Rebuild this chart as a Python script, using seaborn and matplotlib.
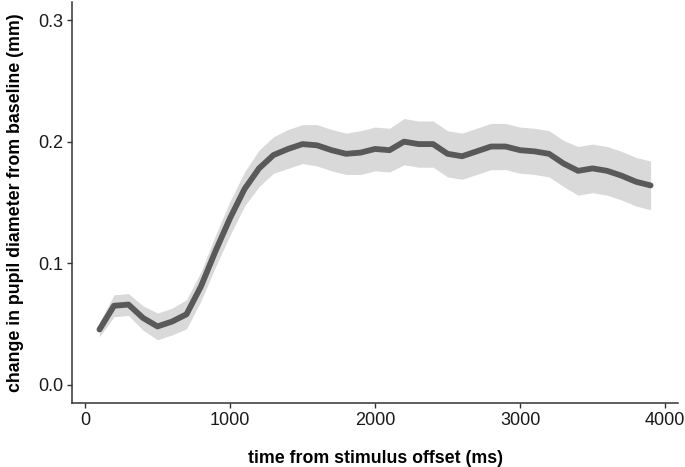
import matplotlib
matplotlib.use("Agg")
import matplotlib.pyplot as plt
import seaborn as sns
import pandas as pd

# time bins (ms) and mean change in pupil diameter (mm), with ribbon half-width
time_ms = [100, 200, 300, 400, 500, 600, 700, 800, 900, 1000,
           1100, 1200, 1300, 1400, 1500, 1600, 1700, 1800, 1900, 2000,
           2100, 2200, 2300, 2400, 2500, 2600, 2700, 2800, 2900, 3000,
           3100, 3200, 3300, 3400, 3500, 3600, 3700, 3800, 3900]
pupil_change = [0.0455, 0.065, 0.066, 0.055, 0.048, 0.052, 0.058, 0.081, 0.110, 0.137,
                0.161, 0.178, 0.189, 0.194, 0.198, 0.197, 0.193, 0.190, 0.191, 0.194,
                0.193, 0.200, 0.198, 0.198, 0.190, 0.188, 0.192, 0.196, 0.196, 0.193,
                0.192, 0.190, 0.182, 0.176, 0.178, 0.176, 0.172, 0.167, 0.164]
ribbon_hw = [0.006, 0.009, 0.009, 0.010, 0.011, 0.011, 0.012, 0.012, 0.013, 0.014,
             0.014, 0.015, 0.015, 0.016, 0.016, 0.017, 0.017, 0.017, 0.018, 0.018,
             0.018, 0.019, 0.019, 0.019, 0.019, 0.019, 0.019, 0.019, 0.019, 0.019,
             0.019, 0.019, 0.019, 0.020, 0.020, 0.020, 0.020, 0.020, 0.020]

df = pd.DataFrame({"time": time_ms, "change": pupil_change, "hw": ribbon_hw})
df["lo"] = df["change"] - df["hw"]
df["hi"] = df["change"] + df["hw"]

sns.set_theme(style="ticks")
plt.rcParams["font.family"] = ["Liberation Sans", "DejaVu Sans"]

fig = plt.figure(figsize=(6.85, 4.67), dpi=100)
ax = fig.add_axes([0.105, 0.137, 0.885, 0.859])

ax.fill_between(df["time"], df["lo"], df["hi"], color="#d9d9d9", linewidth=0)
sns.lineplot(data=df, x="time", y="change", ax=ax, color="#595959",
             linewidth=4.2, errorbar=None)

ax.set_xlim(-90, 4090)
ax.set_ylim(-0.015, 0.315)
ax.set_xticks([0, 1000, 2000, 3000, 4000])
ax.set_yticks([0.0, 0.1, 0.2, 0.3])
ax.set_yticklabels(["0.0", "0.1", "0.2", "0.3"])

ax.set_xlabel("time from stimulus offset (ms)", fontsize=12.8, fontweight="bold",
              labelpad=15, color="black")
ax.set_ylabel("change in pupil diameter from baseline (mm)", fontsize=12.8,
              fontweight="bold", labelpad=10, color="black")
ax.tick_params(axis="both", labelsize=13, colors="#333333", length=3.5, width=1,
               pad=3, labelcolor="#1a1a1a")
for side in ["left", "bottom"]:
    ax.spines[side].set_color("#333333")
    ax.spines[side].set_linewidth(1.1)
sns.despine(ax=ax)

fig.savefig("out.png", dpi=100)
